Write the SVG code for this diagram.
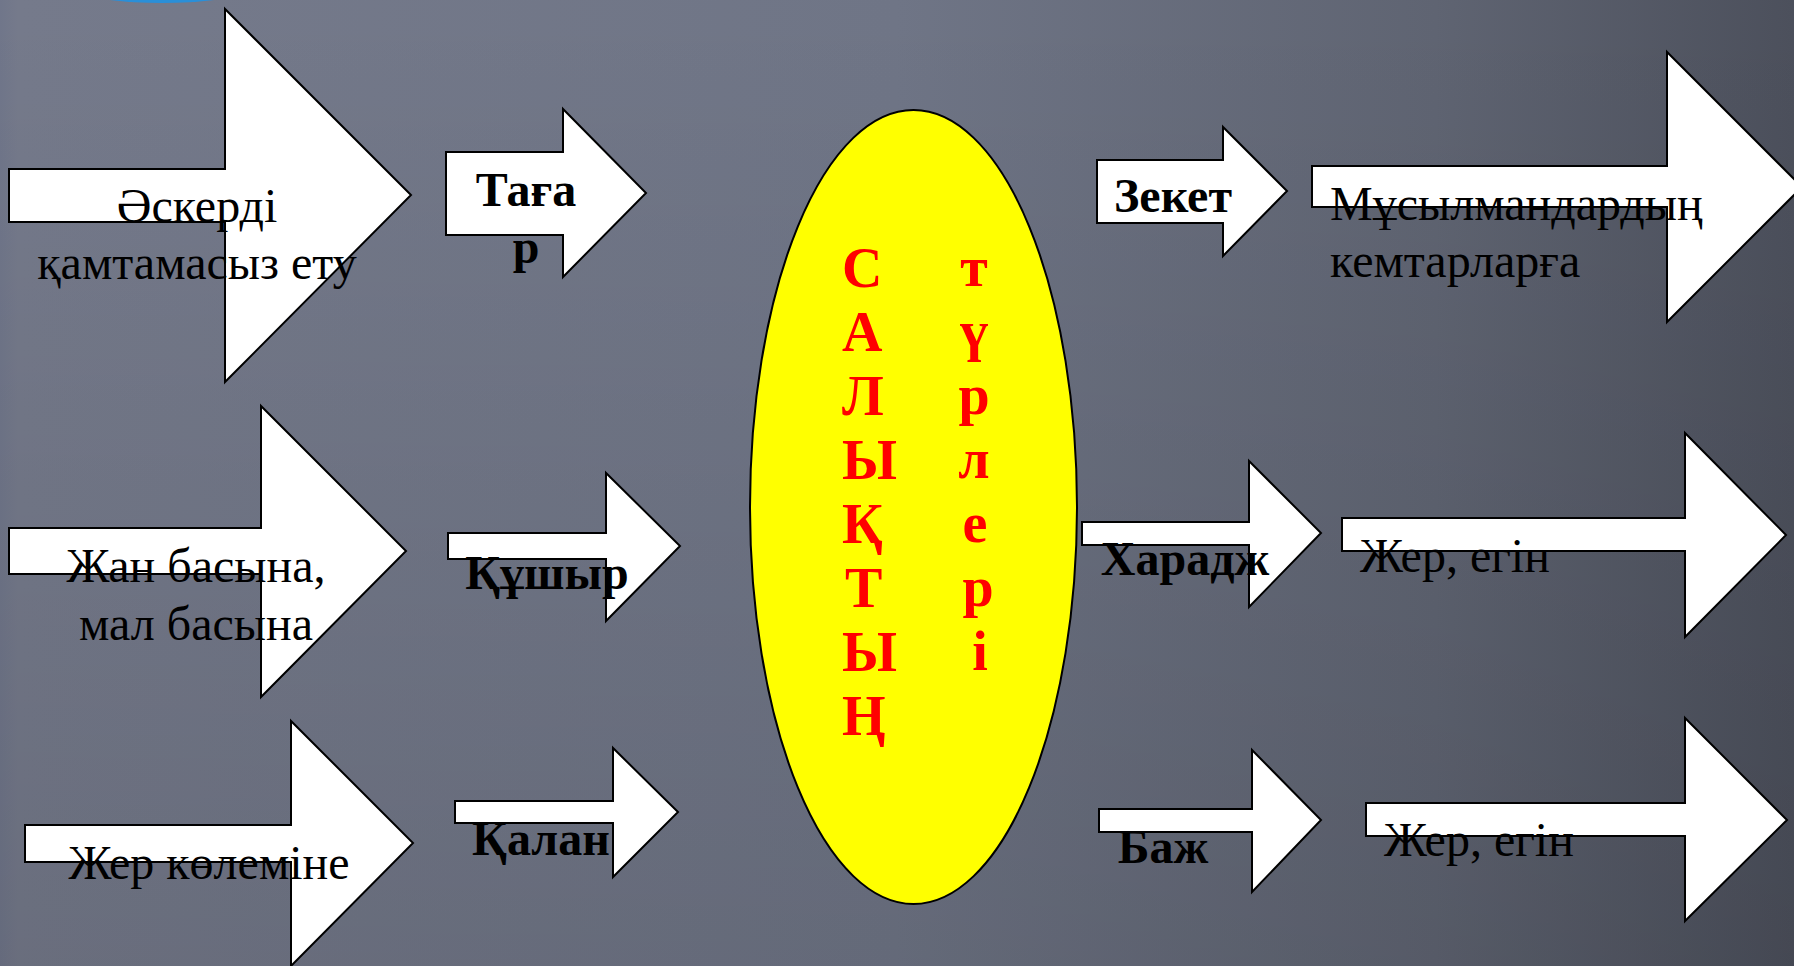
<svg xmlns="http://www.w3.org/2000/svg" width="1794" height="966" viewBox="0 0 1794 966">
<defs>
<linearGradient id="bgH" x1="0" y1="0" x2="1" y2="0">
<stop offset="0" stop-color="#70768a"/>
<stop offset="0.01" stop-color="#757a8b"/>
<stop offset="0.5" stop-color="#6f7586"/>
<stop offset="0.8" stop-color="#5f6472"/>
<stop offset="1" stop-color="#4c505c"/>
</linearGradient>
<linearGradient id="bgV" x1="0" y1="0" x2="0" y2="1">
<stop offset="0" stop-color="#000" stop-opacity="0"/>
<stop offset="1" stop-color="#000" stop-opacity="0.1"/>
</linearGradient>
<style>
.arr{fill:#fff;stroke:#000;stroke-width:2;stroke-linejoin:miter}
.t{font-family:"Liberation Serif","Times New Roman",serif;font-size:48px;fill:#000}
.b{font-family:"Liberation Serif","Times New Roman",serif;font-size:48px;font-weight:bold;fill:#000}
.c{text-anchor:middle}
.red{font-family:"Liberation Serif","Times New Roman",serif;font-size:56px;font-weight:bold;fill:#ff0000}
</style>
</defs>
<rect width="1794" height="966" fill="url(#bgH)"/>
<rect width="1794" height="966" fill="url(#bgV)"/>
<ellipse cx="162" cy="-40" rx="142" ry="43" fill="#2a8fd8"/>

<g id="connectors"></g>

<g id="n1">
<polygon class="arr" points="9,169 225,169 225,9 411,195 225,382 225,222 9,222"/>
<text class="t c" x="197" y="222">Әскерді</text>
<text class="t c" x="197" y="279">қамтамасыз ету</text>
</g>
<g id="n2">
<polygon class="arr" points="446,152 563,152 563,109 646,193 563,277 563,235 446,235"/>
<text class="b c" x="526" y="206">Таға</text>
<text class="b c" x="526" y="263">р</text>
</g>
<g id="n3">
<polygon class="arr" points="9,528 261,528 261,406 406,551 261,697 261,574 9,574"/>
<text class="t c" x="196" y="582">Жан басына,</text>
<text class="t c" x="196" y="640">мал басына</text>
</g>
<g id="n4">
<polygon class="arr" points="448,533 606,533 606,473 680,546 606,621 606,559 448,559"/>
<text class="b c" x="547" y="589">Құшыр</text>
</g>
<g id="n5">
<polygon class="arr" points="25,825 291,825 291,721 413,843 291,966 291,862 25,862"/>
<text class="t c" x="209" y="879">Жер көлеміне</text>
</g>
<g id="n6">
<polygon class="arr" points="455,801 613,801 613,748 678,812 613,877 613,823 455,823"/>
<text class="b c" x="541" y="855">Қалан</text>
</g>

<g id="center">
<ellipse cx="913.5" cy="507" rx="163.5" ry="397" fill="#ffff00" stroke="#000" stroke-width="2"/>
<text class="red" x="842" y="287">С</text>
<text class="red" x="842" y="351">А</text>
<text class="red" x="842" y="415">Л</text>
<text class="red" x="842" y="479">Ы</text>
<text class="red" x="842" y="543">Қ</text>
<text class="red" x="845" y="607">Т</text>
<text class="red" x="842" y="671">Ы</text>
<text class="red" x="842" y="735">Ң</text>
<text class="red c" x="974" y="286">т</text>
<text class="red c" x="974" y="350">ү</text>
<text class="red c" x="974" y="414">р</text>
<text class="red c" x="974" y="478">л</text>
<text class="red c" x="975" y="542">е</text>
<text class="red c" x="978" y="606">р</text>
<text class="red c" x="980" y="670">і</text>
</g>

<g id="n7">
<polygon class="arr" points="1097,160 1223,160 1223,127 1287,191 1223,256 1223,223 1097,223"/>
<text class="b c" x="1173" y="212">Зекет</text>
</g>
<g id="n8">
<polygon class="arr" points="1312,166 1667,166 1667,52 1802,187 1667,322 1667,207 1312,207"/>
<text class="t" x="1330" y="220">Мұсылмандардың</text>
<text class="t" x="1330" y="277">кемтарларға</text>
</g>
<g id="n9">
<polygon class="arr" points="1082,522 1249,522 1249,461 1321,533 1249,607 1249,545 1082,545"/>
<text class="b c" x="1185" y="575">Харадж</text>
</g>
<g id="n10">
<polygon class="arr" points="1342,518 1685,518 1685,433 1786,535 1685,637 1685,551 1342,551"/>
<text class="t" x="1360" y="572">Жер, егін</text>
</g>
<g id="n11">
<polygon class="arr" points="1099,809 1252,809 1252,750 1321,820 1252,892 1252,832 1099,832"/>
<text class="b c" x="1163" y="863">Баж</text>
</g>
<g id="n12">
<polygon class="arr" points="1366,803 1685,803 1685,718 1787,820 1685,921 1685,836 1366,836"/>
<text class="t" x="1384" y="856">Жер, егін</text>
</g>
</svg>
